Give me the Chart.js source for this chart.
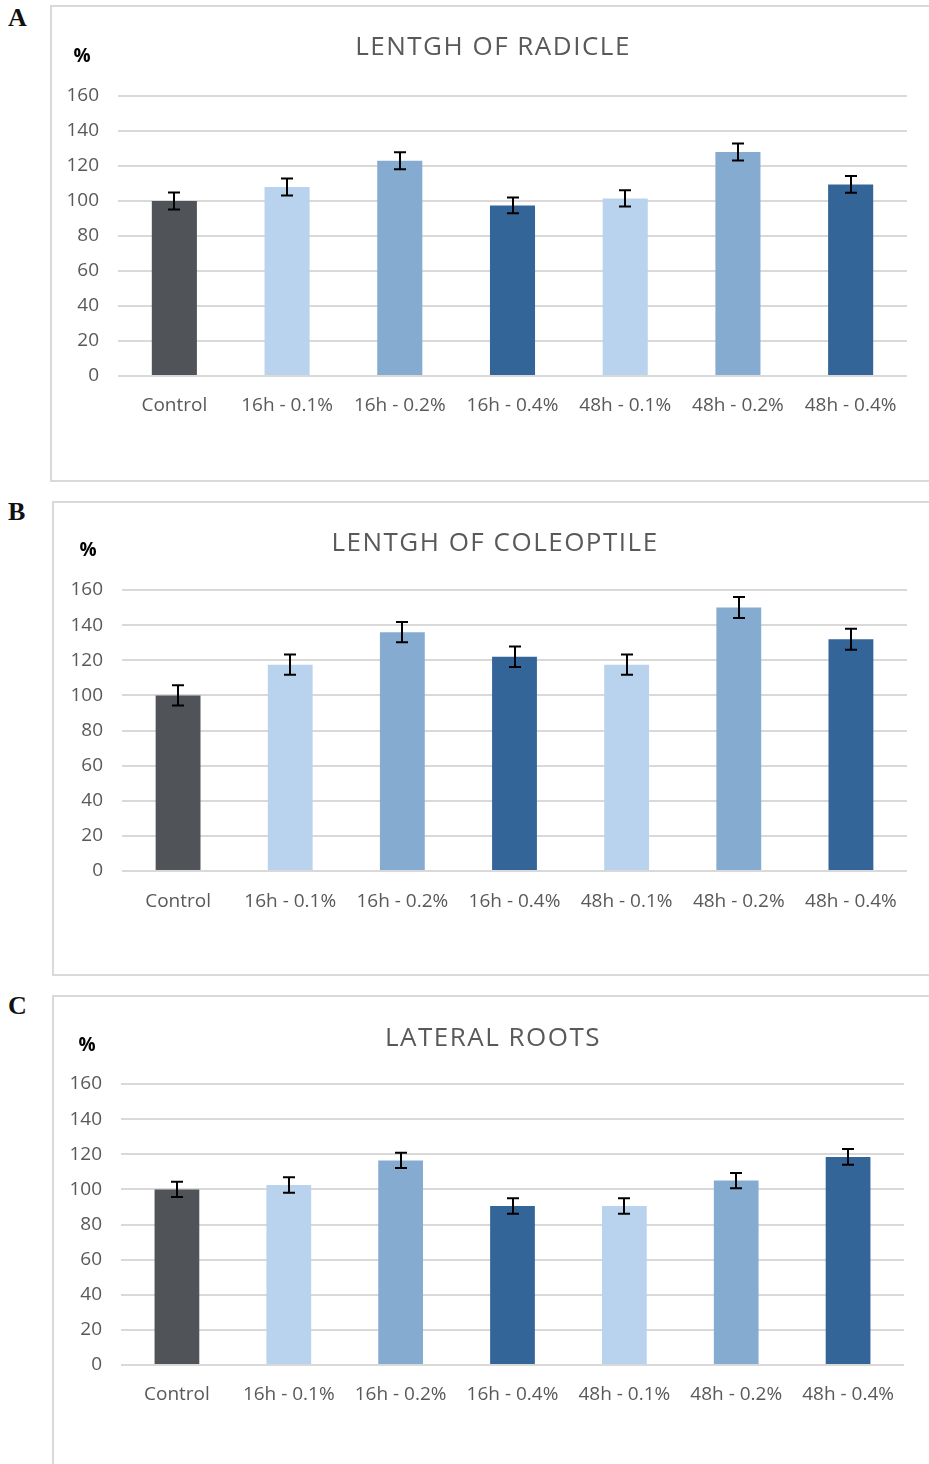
<!DOCTYPE html>
<html>
<head>
<meta charset="utf-8">
<script src="https://cdn.jsdelivr.net/npm/chart.js@4"></script>
<style>
  html, body { margin: 0; padding: 0; background: #ffffff; }
  body { width: 929px; height: 1464px; position: relative; overflow: hidden; }
  .panel { position: absolute; border: 2px solid #d9d9d9; border-right: none; box-sizing: border-box; }
  .letter { position: absolute; font-family: "Liberation Serif", "DejaVu Serif", serif; font-weight: bold; font-size: 26px; color: #111; line-height: 1; }
  canvas { position: absolute; left: 0; }
</style>
</head>
<body>
<div class="panel" style="left:50px; top:5px; width:900px; height:477px;"></div>
<div class="panel" style="left:52px; top:501px; width:900px; height:475px;"></div>
<div class="panel" style="left:52px; top:995px; width:900px; height:480px;"></div>
<div class="letter" style="left:8px; top:5px;">A</div>
<div class="letter" style="left:8px; top:499px;">B</div>
<div class="letter" style="left:8px; top:993px;">C</div>

<div style="position:absolute; left:0; top:5px; width:929px; height:476px;"><canvas id="cA"></canvas></div>
<div style="position:absolute; left:0; top:501px; width:929px; height:474px;"><canvas id="cB"></canvas></div>
<div style="position:absolute; left:0; top:996px; width:929px; height:468px;"><canvas id="cC"></canvas></div>

<script>
// ---- data ----
const categories = ["Control", "16h - 0.1%", "16h - 0.2%", "16h - 0.4%", "48h - 0.1%", "48h - 0.2%", "48h - 0.4%"];
const yTicks = [0, 20, 40, 60, 80, 100, 120, 140, 160];

const radicleValues = [100, 108, 123, 97.5, 101.5, 128, 109.5];
const radicleErrors = [4.8, 4.8, 4.8, 4.5, 4.6, 4.8, 4.8];

const coleoptileValues = [100, 117.5, 136, 122, 117.5, 150, 132];
const coleoptileErrors = [5.8, 5.8, 5.8, 5.8, 5.8, 6, 6];

const lateralValues = [100, 102.5, 116.5, 90.5, 90.5, 105, 118.5];
const lateralErrors = [4.4, 4.4, 4.4, 4.4, 4.4, 4.3, 4.5];

const titles = ["LENTGH OF RADICLE", "LENTGH OF COLEOPTILE", "LATERAL ROOTS"];
const unitLabel = "%";

// ---- styles ----
const barColors = ["#505458", "#b9d3ee", "#86abd1", "#346599", "#b9d3ee", "#86abd1", "#346599"];
const textGray = "#595959";

const errorBarPlugin = {
  id: "errorBars",
  afterDatasetsDraw(chart, args, opts) {
    const ctx = chart.ctx;
    const meta = chart.getDatasetMeta(0);
    const ys = chart.scales.y;
    const vals = chart.data.datasets[0].data;
    const errs = opts.errors;
    ctx.save();
    ctx.strokeStyle = "#000";
    ctx.lineWidth = 2;
    meta.data.forEach((bar, i) => {
      const x = Math.round(bar.x);
      const top = ys.getPixelForValue(vals[i] + errs[i]);
      const bot = ys.getPixelForValue(vals[i] - errs[i]);
      ctx.beginPath();
      ctx.moveTo(x, top); ctx.lineTo(x, bot);
      ctx.moveTo(x - 6, top); ctx.lineTo(x + 6, top);
      ctx.moveTo(x - 6, bot); ctx.lineTo(x + 6, bot);
      ctx.stroke();
    });
    ctx.restore();
  }
};

const labelsPlugin = {
  id: "panelText",
  afterDraw(chart, args, opts) {
    const ctx = chart.ctx;
    ctx.save();
    ctx.textBaseline = "alphabetic";
    ctx.textAlign = "center";
    ctx.fillStyle = textGray;
    ctx.font = "26px 'Open Sans'";
    if ("letterSpacing" in ctx) ctx.letterSpacing = "1.5px";
    ctx.fillText(opts.title, opts.titleX, opts.titleY);
    if ("letterSpacing" in ctx) ctx.letterSpacing = "0px";
    ctx.fillStyle = "#000";
    ctx.font = "bold 19px 'Open Sans'";
    ctx.fillText(unitLabel, opts.unitX, opts.unitY);
    ctx.restore();
  }
};

function makeChart(id, values, errors, cfg) {
  const canvas = document.getElementById(id);
  canvas.parentNode.style.height = cfg.h + "px";
  return new Chart(canvas, {
    type: "bar",
    data: {
      labels: categories,
      datasets: [{
        data: values,
        backgroundColor: barColors,
        borderWidth: 0,
        categoryPercentage: 0.4,
        barPercentage: 1.0
      }]
    },
    options: {
      responsive: true,
      maintainAspectRatio: false,
      animation: false,
      events: [],
      layout: { padding: { top: cfg.top, right: cfg.right, bottom: cfg.bottom, left: 0 } },
      plugins: {
        legend: { display: false },
        tooltip: { enabled: false },
        title: { display: false },
        errorBars: { errors: errors },
        panelText: { title: cfg.title, titleX: cfg.titleX, titleY: cfg.titleY, unitX: cfg.unitX, unitY: cfg.unitY }
      },
      scales: {
        x: {
          grid: { display: false, drawTicks: false },
          border: { display: false },
          ticks: { color: textGray, font: { family: "'Open Sans'", size: 19 }, padding: cfg.xPad, maxRotation: 0, autoSkip: false },
          afterFit(scale) { scale.height = 50; }
        },
        y: {
          min: 0, max: 160,
          afterBuildTicks(scale) { scale.ticks = yTicks.map(v => ({ value: v })); },
          grid: { color: "#d9d9d9", lineWidth: 2, drawTicks: false },
          border: { display: false },
          ticks: { color: textGray, font: { family: "'Open Sans'", size: 19 }, padding: cfg.yPad },
          afterFit(scale) { scale.width = cfg.left; }
        }
      }
    },
    plugins: [errorBarPlugin, labelsPlugin]
  });
}

makeChart("cA", radicleValues, radicleErrors, {
  h: 476, top: 91, right: 22, bottom: 55, left: 118, xPad: 18, yPad: 19,
  title: titles[0], titleX: 493, titleY: 50, unitX: 82, unitY: 57
});
makeChart("cB", coleoptileValues, coleoptileErrors, {
  h: 474, top: 89, right: 22, bottom: 54, left: 122, xPad: 19, yPad: 19,
  title: titles[1], titleX: 495, titleY: 50, unitX: 88, unitY: 55
});
makeChart("cC", lateralValues, lateralErrors, {
  h: 468, top: 88, right: 25, bottom: 49, left: 121, xPad: 18, yPad: 19,
  title: titles[2], titleX: 493, titleY: 50, unitX: 87, unitY: 55
});
</script>
</body>
</html>
